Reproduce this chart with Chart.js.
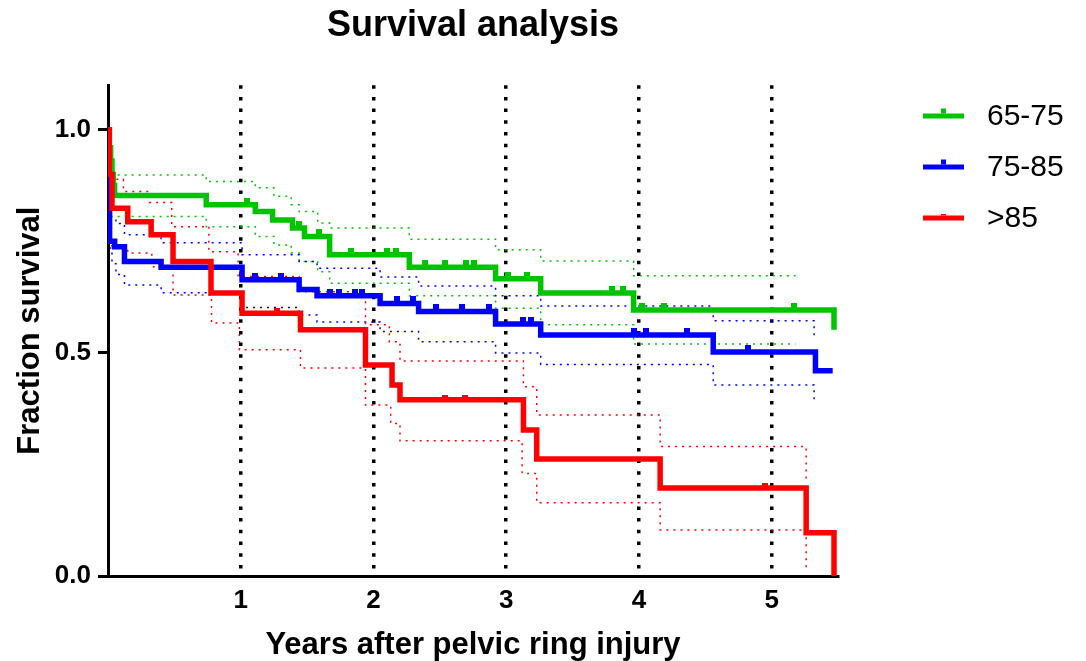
<!DOCTYPE html>
<html>
<head>
<meta charset="utf-8">
<title>Survival analysis</title>
<script src="https://cdn.jsdelivr.net/npm/chart.js@4.4.1/dist/chart.umd.min.js"></script>
<style>
  html, body { margin: 0; padding: 0; background: #fff; }
</style>
</head>
<body>
<canvas id="survivalChart" width="1086" height="661"></canvas>
<script>
const seriesNames = ['65-75', '75-85', '>85'];
const seriesColors = ['#00c400', '#0000ff', '#ff0000'];
const xTicks = [1, 2, 3, 4, 5];
const yTicks = [0, 0.5, 1.0];

// 65-75
const greenTimes = [0, 0.01, 0.02, 0.03, 0.04, 0.05, 0.74, 1.11, 1.24, 1.39, 1.48, 1.67, 2.27, 2.92, 3.26, 3.96, 5.47];
const greenSurv = [1.0, 0.96, 0.93, 0.90, 0.875, 0.853, 0.832, 0.817, 0.798, 0.78, 0.761, 0.72, 0.692, 0.666, 0.634, 0.596, 0.552];
const greenCensor = [1.05, 1.44, 1.59, 1.83, 2.1, 2.17, 2.39, 2.54, 2.7, 2.76, 3.01, 3.16, 3.8, 3.88, 4.02, 4.19, 5.17];
const greenCiTimes = [0.02, 0.74, 1.11, 1.25, 1.38, 1.44, 1.58, 1.67, 2.27, 2.92, 3.26, 3.96, 5.18];
const greenUpper = [0.899, 0.884, 0.87, 0.851, 0.832, 0.817, 0.791, 0.78, 0.755, 0.731, 0.706, 0.673, 0.673];
const greenLower = [0.806, 0.783, 0.761, 0.742, 0.724, 0.705, 0.682, 0.656, 0.628, 0.6, 0.563, 0.52, 0.52];

// 75-85
const blueTimes = [0, 0.005, 0.012, 0.05, 0.124, 0.4, 1.01, 1.44, 1.575, 2.05, 2.34, 2.92, 3.26, 4.56, 5.33, 5.46];
const blueSurv = [1.0, 0.85, 0.75, 0.738, 0.705, 0.692, 0.664, 0.642, 0.628, 0.611, 0.593, 0.565, 0.54, 0.502, 0.46, 0.46];
const blueCensor = [1.11, 1.30, 1.67, 1.74, 1.86, 1.91, 2.18, 2.30, 2.47, 2.67, 2.87, 3.13, 3.19, 3.96, 4.05, 4.36, 4.82];
const blueCiTimes = [0.01, 0.03, 0.06, 0.124, 0.4, 1.01, 1.44, 1.575, 2.05, 2.34, 2.92, 3.26, 4.56, 5.32];
const blueUpper = [0.80, 0.80, 0.79, 0.765, 0.747, 0.72, 0.705, 0.69, 0.67, 0.65, 0.628, 0.605, 0.572, 0.538];
const blueLower = [0.735, 0.70, 0.676, 0.652, 0.635, 0.602, 0.585, 0.569, 0.548, 0.525, 0.5, 0.474, 0.428, 0.395];

// >85
const redTimes = [0, 0.01, 0.03, 0.149, 0.325, 0.49, 0.776, 1.01, 1.45, 1.94, 2.14, 2.2, 3.13, 3.23, 4.16, 5.26, 5.47];
const redSurv = [1.0, 0.9, 0.824, 0.794, 0.765, 0.705, 0.634, 0.589, 0.552, 0.473, 0.428, 0.395, 0.327, 0.262, 0.197, 0.097, 0.0];
const redCensor = [1.27, 2.54, 2.69, 4.95];
const redUpperTimes = [0.01, 0.116, 0.31, 0.48, 0.76, 0.98, 1.44, 1.94, 2.12, 2.2, 3.13, 3.23, 4.16, 5.26];
const redUpper = [0.889, 0.862, 0.837, 0.783, 0.727, 0.671, 0.637, 0.563, 0.525, 0.482, 0.424, 0.361, 0.29, 0.21];
const redLowerTimes = [0.02, 0.149, 0.33, 0.49, 0.78, 0.99, 1.45, 1.94, 2.13, 2.2, 3.12, 3.23, 4.16, 5.26];
const redLower = [0.74, 0.724, 0.693, 0.63, 0.567, 0.507, 0.466, 0.383, 0.342, 0.303, 0.23, 0.164, 0.103, 0.018];

const fontFamily = '"Liberation Sans", Arial, Helvetica, sans-serif';

function toPoints(times, values) {
  return times.map((t, i) => ({ x: t, y: values[i] }));
}

// value of the step curve at a given time
function survivalAt(times, values, t) {
  let v = values[0];
  for (let i = 0; i < times.length; i++) {
    if (times[i] <= t) v = values[i];
  }
  return v;
}

// small tick that sits on top of the line (censored subjects)
function makeTick(color, up) {
  const c = document.createElement('canvas');
  c.width = 6;
  c.height = up * 2;
  const g = c.getContext('2d');
  g.fillStyle = color;
  g.fillRect(0, 0, 6, up);
  return c;
}

function mainLine(label, times, values, color) {
  return {
    label: label,
    data: toPoints(times, values),
    borderColor: color,
    borderWidth: 5.5,
    stepped: 'before',
    pointRadius: 0,
    fill: false
  };
}

function censorSet(label, censor, times, values, color, up) {
  return {
    label: label + ' censored',
    data: censor.map(t => ({ x: t, y: survivalAt(times, values, t) })),
    showLine: false,
    pointStyle: makeTick(color, up),
    pointRadius: 4,
    borderColor: color,
    backgroundColor: color
  };
}

function ciLine(label, times, values, color) {
  return {
    label: label,
    data: toPoints(times, values),
    borderColor: color,
    borderWidth: 1.5,
    borderDash: [2, 5],
    stepped: 'before',
    pointRadius: 0,
    fill: false
  };
}

const sideLegend = {
  id: 'sideLegend',
  afterDraw(chart) {
    const ctx = chart.ctx;
    ctx.save();
    seriesNames.forEach((name, i) => {
      const y = 116 + i * 51;
      ctx.strokeStyle = seriesColors[i];
      ctx.lineWidth = 5;
      ctx.beginPath();
      ctx.moveTo(923, y);
      ctx.lineTo(964, y);
      ctx.stroke();
      ctx.fillStyle = seriesColors[i];
      const th = i == 2 ? 1.5 : 5;
      ctx.fillRect(941, y - 2.5 - th, 5, th);
      ctx.fillStyle = '#000';
      ctx.font = '30px ' + fontFamily;
      ctx.textBaseline = 'middle';
      ctx.textAlign = 'left';
      ctx.fillText(name, 987, y + 1);
    });
    ctx.restore();
  }
};

Chart.defaults.font.family = fontFamily;
Chart.defaults.color = '#000';

const ctx = document.getElementById('survivalChart').getContext('2d');
const survivalChart = new Chart(ctx, {
  type: 'line',
  data: {
    datasets: [
      censorSet(seriesNames[2], redCensor, redTimes, redSurv, seriesColors[2], 5),
      mainLine(seriesNames[2], redTimes, redSurv, seriesColors[2]),
      censorSet(seriesNames[1], blueCensor, blueTimes, blueSurv, seriesColors[1], 7),
      mainLine(seriesNames[1], blueTimes, blueSurv, seriesColors[1]),
      censorSet(seriesNames[0], greenCensor, greenTimes, greenSurv, seriesColors[0], 7),
      mainLine(seriesNames[0], greenTimes, greenSurv, seriesColors[0]),
      ciLine('>85 upper', redUpperTimes, redUpper, seriesColors[2]),
      ciLine('>85 lower', redLowerTimes, redLower, seriesColors[2]),
      ciLine('75-85 upper', blueCiTimes, blueUpper, seriesColors[1]),
      ciLine('75-85 lower', blueCiTimes, blueLower, seriesColors[1]),
      ciLine('65-75 upper', greenCiTimes, greenUpper, seriesColors[0]),
      ciLine('65-75 lower', greenCiTimes, greenLower, seriesColors[0])
    ]
  },
  options: {
    responsive: false,
    devicePixelRatio: 1,
    animation: false,
    layout: { padding: { left: 0, right: 248, top: 0, bottom: 0 } },
    plugins: {
      legend: { display: false },
      tooltip: { enabled: false },
      title: {
        display: true,
        text: 'Survival analysis',
        fullSize: false,
        color: '#000',
        font: { size: 36, weight: 'bold' },
        padding: { top: 4, bottom: 38 }
      }
    },
    scales: {
      x: {
        type: 'linear',
        min: 0,
        max: 5.5,
        z: 1,
        afterBuildTicks: axis => { axis.ticks = xTicks.map(v => ({ value: v })); },
        afterFit: scale => { scale.height = 85; },
        ticks: {
          color: '#000',
          font: { size: 26, weight: 'bold' },
          padding: 9,
          maxRotation: 0
        },
        grid: {
          color: '#000',
          lineWidth: 3.5,
          drawTicks: false
        },
        border: { display: true, color: '#000', width: 3, dash: [3.5, 8.2] },
        title: {
          display: true,
          text: 'Years after pelvic ring injury',
          color: '#000',
          font: { size: 31, weight: 'bold', lineHeight: 1 },
          padding: { top: 0, bottom: 0 }
        }
      },
      y: {
        min: 0,
        max: 1.1,
        afterBuildTicks: axis => { axis.ticks = yTicks.map(v => ({ value: v })); },
        afterFit: scale => { scale.width = 108; },
        ticks: {
          color: '#000',
          font: { size: 26, weight: 'bold' },
          padding: 7,
          callback: v => v.toFixed(1)
        },
        grid: {
          drawOnChartArea: false,
          drawTicks: true,
          tickLength: 10,
          tickWidth: 3,
          tickColor: '#000'
        },
        border: { display: true, color: '#000', width: 3 },
        title: {
          display: true,
          text: 'Fraction survival',
          color: '#000',
          font: { size: 31, weight: 'bold' },
          padding: { top: 12, bottom: 0 }
        }
      }
    }
  },
  plugins: [sideLegend]
});
</script>
</body>
</html>
